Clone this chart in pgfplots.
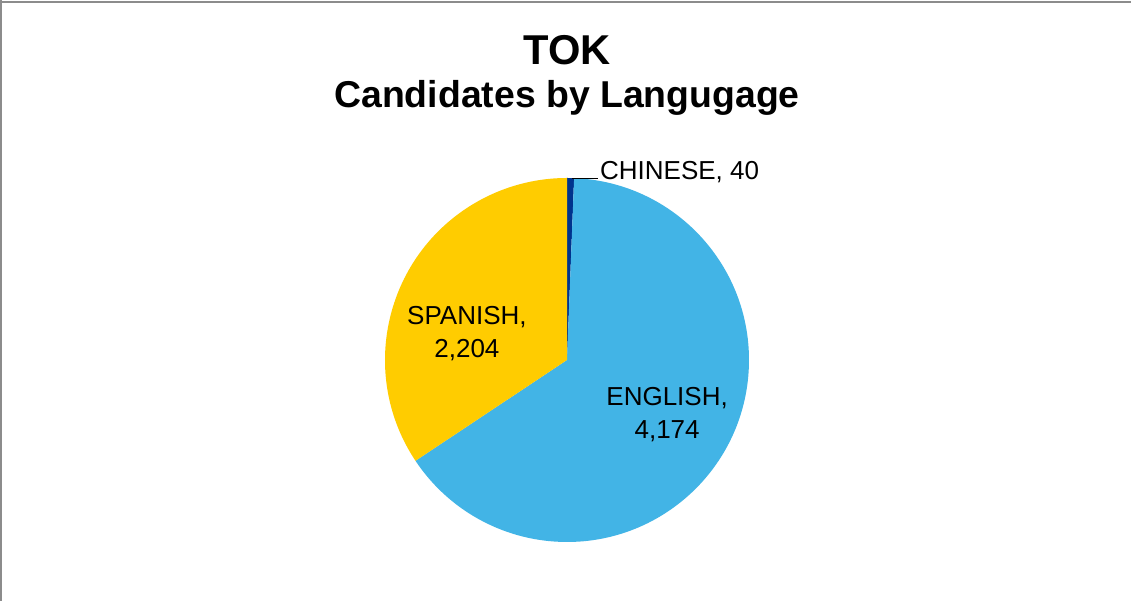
\documentclass[border=0pt]{standalone}
\usepackage{fontspec}
\setmainfont{Liberation Sans}
\usepackage{pgfplots}
\usepackage{pgfplotstable}
\pgfplotsset{compat=1.18}

\definecolor{chinese}{RGB}{0,51,141}
\definecolor{english}{RGB}{66,180,230}
\definecolor{spanish}{RGB}{255,204,0}
\definecolor{frame}{RGB}{140,140,140}

\pgfplotstableread{
lang value
CHINESE 40
ENGLISH 4174
SPANISH 2204
}\langdata

\begin{document}
\begin{tikzpicture}
\path[use as bounding box] (0,0) rectangle (1131pt,601pt);
\fill[white] (0,0) rectangle (1131pt,601pt);
\draw[frame, line width=2pt] (0,599pt) -- (1131pt,599pt);
\draw[frame, line width=1.5pt] (0.75pt,0) -- (0.75pt,601pt);

% slice angles, clockwise from 12 o'clock
\pgfplotstablegetelem{0}{value}\of\langdata \let\vA\pgfplotsretval
\pgfplotstablegetelem{1}{value}\of\langdata \let\vB\pgfplotsretval
\pgfplotstablegetelem{2}{value}\of\langdata \let\vC\pgfplotsretval
\pgfmathsetmacro\total{\vA+\vB+\vC}
\pgfmathsetmacro\aA{90-360*(\vA/\total)}
\pgfmathsetmacro\aB{\aA-360*(\vB/\total)}

\node[font=\fontsize{41.7}{48}\selectfont\bfseries] at (567pt,551pt) {TOK};
\node[font=\fontsize{37.4}{44}\selectfont\bfseries] at (567pt,503pt) {Candidates by Langugage};

\begin{axis}[
  hide axis, clip=false,
  x=182pt, y=182pt,
  xmin=-1, xmax=1, ymin=-1, ymax=1,
  anchor=center, at={(567pt,241pt)},
]
  \fill[chinese] (axis cs:0,0) -- (axis cs:0,1)
    arc[start angle=90, end angle=\aA, radius=182pt] -- cycle;
  \fill[english] (axis cs:0,0) -- (axis cs:{cos(\aA)},{sin(\aA)})
    arc[start angle=\aA, end angle=\aB, radius=182pt] -- cycle;
  \fill[spanish] (axis cs:0,0) -- (axis cs:{cos(\aB)},{sin(\aB)})
    arc[start angle=\aB, end angle=-270, radius=182pt] -- cycle;

  \draw[black, line width=0.8pt] (axis cs:0.027,0.995) -- (axis cs:0.170,0.995);
  \node[anchor=base west, font=\fontsize{26}{31}\selectfont, inner sep=0pt]
    at (axis cs:0.181,0.99) {CHINESE, 40};
  \node[align=center, font=\fontsize{26}{33}\selectfont]
    at (axis cs:-0.55,0.143) {SPANISH,\\2,204};
  \node[align=center, font=\fontsize{26}{33}\selectfont]
    at (axis cs:0.55,-0.30) {ENGLISH,\\4,174};
\end{axis}
\end{tikzpicture}
\end{document}
